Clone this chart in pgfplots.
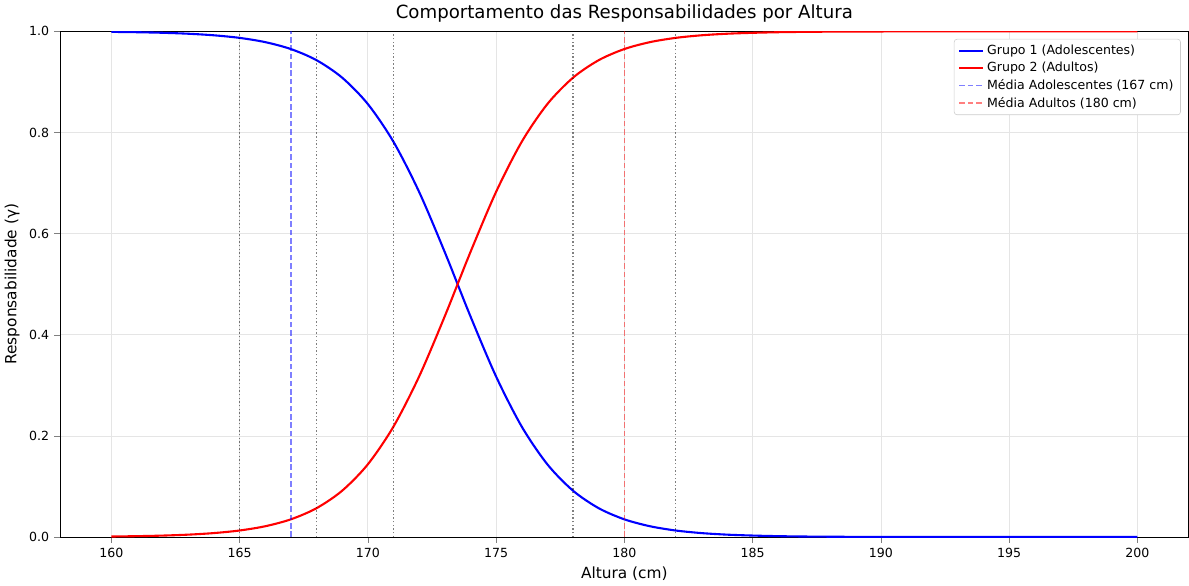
\documentclass[border=0pt]{standalone}
\usepackage{fontspec}
\setmainfont{DejaVu Sans}
\usepackage{pgfplots}
\pgfplotsset{compat=1.18}
\begin{document}
\begin{tikzpicture}
\begin{axis}[
  width=808pt, height=362pt, scale only axis,
  xmin=158, xmax=202, ymin=0, ymax=1,
  xtick={160,165,...,200}, ytick={0,0.2,0.4,0.6,0.8,1.0},
  yticklabel style={/pgf/number format/.cd,fixed,fixed zerofill,precision=1},
  /pgf/number format/assume math mode=true,
  tick label style={font=\fontsize{9}{11}\selectfont},
  grid=major, grid style={gray!20, line width=0.5pt},
  tick align=outside, tick pos=left,
  xlabel={Altura (cm)}, ylabel={Responsabilidade (γ)},
  label style={font=\fontsize{11}{13}\selectfont},
  title={Comportamento das Responsabilidades por Altura},
  title style={font=\fontsize{13}{15}\selectfont, yshift=-3pt},
  legend style={at={(0.993,0.985)}, anchor=north east, font=\fontsize{9}{11}\selectfont, draw=gray!40, rounded corners=2pt, row sep=0pt},
  legend cell align=left,
]
\addplot[blue, line width=1.5pt, smooth] coordinates {
(160,0.99898)(161,0.9983)(162,0.99717)(163,0.9953)(164,0.9922)(165,0.9871)(166,0.9787)(167,0.965)(168,0.943)(169,0.9084)(170,0.8563)(171,0.7816)(172,0.6825)(173,0.5634)(174,0.4366)(175,0.3175)(176,0.2184)(177,0.1437)(178,0.0916)(179,0.057)(180,0.035)(181,0.0213)(182,0.0129)(183,0.0078)(184,0.0047)(185,0.0029)(186,0.0017)(187,0.001)(188,0.0006)(190,0.0002)(195,0)(200,0)};
\addlegendentry{Grupo 1 (Adolescentes)}
\addplot[red, line width=1.5pt, smooth] coordinates {
(160,0.00102)(161,0.0017)(162,0.00283)(163,0.0047)(164,0.0078)(165,0.0129)(166,0.0213)(167,0.035)(168,0.057)(169,0.0916)(170,0.1437)(171,0.2184)(172,0.3175)(173,0.4366)(174,0.5634)(175,0.6825)(176,0.7816)(177,0.8563)(178,0.9084)(179,0.943)(180,0.965)(181,0.9787)(182,0.9871)(183,0.9922)(184,0.9953)(185,0.9971)(186,0.9983)(187,0.999)(188,0.9994)(190,0.9998)(195,1)(200,1)};
\addlegendentry{Grupo 2 (Adultos)}
\addplot[blue, opacity=0.5, dash pattern=on 4pt off 2pt, line width=1pt] coordinates {(167,0)(167,1)};
\addlegendentry{Média Adolescentes (167 cm)}
\addplot[red, opacity=0.5, dash pattern=on 4pt off 2pt, line width=1pt] coordinates {(180,0)(180,1)};
\addlegendentry{Média Adultos (180 cm)}
\addplot[black, opacity=0.5, dash pattern=on 1pt off 1.6pt, line width=1pt, forget plot] coordinates {(165,0)(165,1)};
\addplot[black, opacity=0.5, dash pattern=on 1pt off 1.6pt, line width=1pt, forget plot] coordinates {(168,0)(168,1)};
\addplot[black, opacity=0.5, dash pattern=on 1pt off 1.6pt, line width=1pt, forget plot] coordinates {(171,0)(171,1)};
\addplot[black, opacity=0.5, dash pattern=on 1pt off 1.6pt, line width=1pt, forget plot] coordinates {(178,0)(178,1)};
\addplot[black, opacity=0.5, dash pattern=on 1pt off 1.6pt, line width=1pt, forget plot] coordinates {(182,0)(182,1)};
\end{axis}
\end{tikzpicture}
\end{document}
